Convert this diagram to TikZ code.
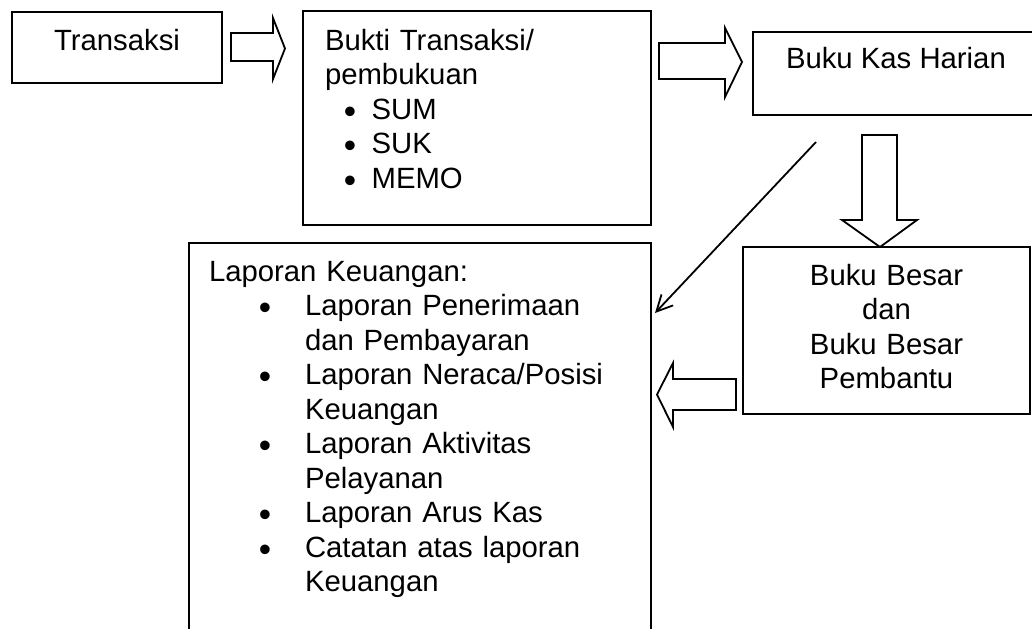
\documentclass[tikz,border=0pt]{standalone}
\usepackage{fontspec}
\setmainfont{Liberation Sans}
\usetikzlibrary{arrows.meta}
\setlength\parindent{0pt}
% a slightly larger, lower bullet
\newcommand\bigbullet{\raisebox{-0.15em}{\scalebox{1.2}{•}}}
% bullet centred at half of #1, item text starting at #2
\newcommand\bulitem[3]{\makebox[#2][l]{\rlap{\makebox[#1][c]{\bigbullet}}}#3}
\newcommand\contline[2]{\makebox[#1]{}#2}
\tikzset{
  box/.style={draw, line width=0.9pt, inner sep=0pt, outer sep=0pt, anchor=north west},
  txt/.style={inner sep=0pt, outer sep=0pt, font=\fontsize{14.65pt}{17.25pt}\selectfont},
  blockarrow/.style={draw, line width=0.9pt, line join=miter, fill=white},
  conn/.style={draw, line width=0.9pt, -{Straight Barb[length=8pt,width=8pt]}}
}
\begin{document}
\begin{tikzpicture}[x=0.5pt, y=-0.5pt]
\useasboundingbox (0,0) rectangle (1032,628);

% boxes
\node[box, minimum width=105pt, minimum height=35.5pt] (trans) at (12,12) {};
\node[box, minimum width=174pt, minimum height=107pt] (bukti) at (303,11) {};
\node[box, minimum width=143.5pt, minimum height=41.5pt] (kas) at (753,32) {};
\node[box, minimum width=143.5pt, minimum height=83.5pt] (besar) at (743,247) {};
\node[box, minimum width=231pt, minimum height=210pt] (lap) at (189,243) {};

% texts
\node[txt, anchor=base] (ttrans) at (117,50) {Transaksi};
\node[txt, anchor=base west, text width=165pt, align=left] (tbukti) at (325,50)
  {Bukti Transaksi/\\
   pembukuan\\
   \bulitem{25pt}{23.3pt}{SUM}\\
   \bulitem{25pt}{23.3pt}{SUK}\\
   \bulitem{25pt}{23.3pt}{MEMO}};
\node[txt, anchor=base west] (tkas) at (786,68) {Buku Kas Harian};
\node[txt, anchor=base, text width=140pt, align=center] (tbesar) at (886.5,285)
  {Buku Besar\\dan\\Buku Besar\\Pembantu};
\node[txt, anchor=base west, text width=220pt, align=left] (tlap) at (209,281)
  {Laporan Keuangan:\\
   \bulitem{56pt}{48pt}{Laporan Penerimaan}\\
   \contline{48pt}{dan Pembayaran}\\
   \bulitem{56pt}{48pt}{Laporan Neraca/Posisi}\\
   \contline{48pt}{Keuangan}\\
   \bulitem{56pt}{48pt}{Laporan Aktivitas}\\
   \contline{48pt}{Pelayanan}\\
   \bulitem{56pt}{48pt}{Laporan Arus Kas}\\
   \bulitem{56pt}{48pt}{Catatan atas laporan}\\
   \contline{48pt}{Keuangan}};

% block arrows between the boxes
\draw[blockarrow] (231,33) -- (273,33) -- (273,18) -- (285,48.5) -- (273,79)
  -- (273,61) -- (231,61) -- cycle;
\draw[blockarrow] (659,43) -- (725,43) -- (725,28) -- (742,62) -- (725,97)
  -- (725,79) -- (659,79) -- cycle;
\draw[blockarrow] (862,135) -- (897,135) -- (897,220) -- (917,220) -- (880,247)
  -- (842,220) -- (862,220) -- cycle;
\draw[blockarrow] (736,379) -- (673,379) -- (673,363) -- (657,394.5) -- (673,427)
  -- (673,410) -- (736,410) -- cycle;

% thin arrow from the cash book to the reports
\coordinate (d1) at (816,142);
\coordinate (d2) at (655,313);
\draw[conn] (d1) -- (d2);
\end{tikzpicture}
\end{document}
